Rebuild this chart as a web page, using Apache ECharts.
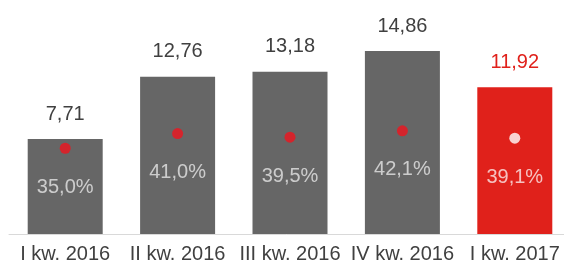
<!DOCTYPE html>
<html>
<head>
<meta charset="utf-8">
<script src="https://cdn.jsdelivr.net/npm/echarts@6/dist/echarts.min.js"></script>
<style>
  html, body { margin: 0; padding: 0; background: #fff; }
  #chart { width: 564px; height: 268px; }
</style>
</head>
<body>
<div id="chart"></div>
<script>
// dane z wykresu
var categories = ['I kw. 2016', 'II kw. 2016', 'III kw. 2016', 'IV kw. 2016', 'I kw. 2017'];
var values = [7.71, 12.76, 13.18, 14.86, 11.92];
var shares = [35.0, 41.0, 39.5, 42.1, 39.1];

var GRAY = '#666666';
var RED = '#e0211b';
var last = values.length - 1;

function pl(v, d) {
    return v.toFixed(d).replace('.', ',');
}

var chart = echarts.init(document.getElementById('chart'));
chart.setOption({
    animation: false,
    textStyle: { fontFamily: 'Liberation Sans' },
    grid: { left: 9, width: 562, top: 0, bottom: 34, outerBoundsMode: 'none', containLabel: false },
    xAxis: {
        type: 'category',
        data: categories,
        axisLine: { lineStyle: { color: '#d9d9d9', width: 1 } },
        axisTick: { show: false },
        axisLabel: { interval: 0, fontSize: 20, color: '#404040', margin: 10 }
    },
    yAxis: [
        { type: 'value', min: 0, max: 19, show: false, splitLine: { show: false } },
        { type: 'value', min: 0, max: 95.5, show: false, splitLine: { show: false } }
    ],
    series: [
        {
            type: 'bar',
            barWidth: 75,
            data: values.map(function (v, i) {
                return {
                    value: v,
                    itemStyle: { color: i === last ? RED : GRAY },
                    label: { color: i === last ? RED : '#404040' }
                };
            }),
            label: {
                show: true,
                position: 'top',
                distance: 15,
                fontSize: 20,
                formatter: function (p) { return pl(p.value, 2); }
            }
        },
        {
            type: 'scatter',
            yAxisIndex: 1,
            symbolSize: 11,
            z: 5,
            data: shares.map(function (v, i) {
                return {
                    value: v,
                    itemStyle: { color: i === last ? '#ffffff' : '#f0141e' },
                    label: { color: i === last ? '#fbeaea' : '#e6e6e6' }
                };
            }),
            label: {
                show: true,
                position: 'inside',
                offset: [0, 39],
                fontSize: 20,
                formatter: function (p) { return pl(p.value, 1) + '%'; }
            }
        }
    ]
});
</script>
</body>
</html>
